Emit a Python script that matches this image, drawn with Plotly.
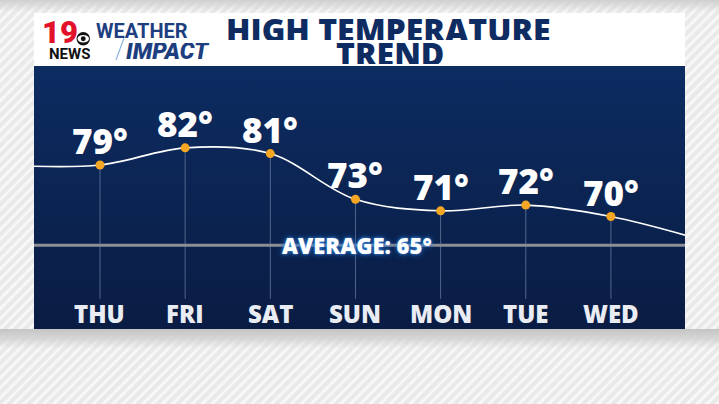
import base64
import plotly.graph_objects as go

# ---------------- data ----------------
days = ["THU", "FRI", "SAT", "SUN", "MON", "TUE", "WED"]
highs = [79, 82, 81, 73, 71, 72, 70]
average_high = 65
edge_left_value = 78.9     # where the trend curve enters the panel (left)
edge_right_value = 66.2    # where the trend curve leaves the panel (right)
title_lines = ["HIGH TEMPERATURE", "TREND"]
avg_label = f"AVERAGE: {average_high}°"

W, H = 719, 404
NAVY_TITLE = "#0f2c62"
DOT = "#f5a623"
BIG = "Open Sans"


def px(x):
    return x / W


def py(y):
    return 1 - y / H


# ---------------- backgrounds (svg) ----------------
stripes_svg = f"""<svg xmlns='http://www.w3.org/2000/svg' width='{W}' height='{H}'>
<defs>
<pattern id='p' width='7' height='7' patternUnits='userSpaceOnUse' patternTransform='rotate(45)'>
<rect width='7' height='7' fill='#e9e9e9'/><rect width='3' height='7' fill='#f7f7f7'/>
</pattern>
<linearGradient id='top' x1='0' y1='0' x2='0' y2='1'>
<stop offset='0' stop-color='#cfcfcf'/><stop offset='1' stop-color='#cfcfcf' stop-opacity='0'/>
</linearGradient>
<linearGradient id='sh' x1='0' y1='0' x2='0' y2='1'>
<stop offset='0' stop-color='#c4c4c4'/><stop offset='0.5' stop-color='#d0d0d0' stop-opacity='0.8'/>
<stop offset='1' stop-color='#d6d6d6' stop-opacity='0'/>
</linearGradient>
</defs>
<rect width='{W}' height='{H}' fill='url(#p)'/>
<rect width='{W}' height='12' fill='url(#top)'/>
<rect y='329' width='{W}' height='20' fill='url(#sh)'/>
</svg>"""

navy_svg = """<svg xmlns='http://www.w3.org/2000/svg' width='100' height='100' preserveAspectRatio='none'>
<defs><linearGradient id='g' x1='0' y1='0' x2='0' y2='1'>
<stop offset='0' stop-color='#0d2c62'/><stop offset='0.5' stop-color='#0b2452'/>
<stop offset='1' stop-color='#0a1c43'/></linearGradient></defs>
<rect width='100' height='100' fill='url(#g)'/></svg>"""


def uri(svg):
    return "data:image/svg+xml;base64," + base64.b64encode(svg.encode()).decode()


# panel geometry (px)
PX0, PX1 = 34, 685
HY0, HY1 = 13, 66
NY0, NY1 = 66, 329

fig = go.Figure()

idx = list(range(len(days)))

# vertical guide lines from each point down
vx, vy = [], []
guide_bottom = 55.6
for i, v in zip(idx, highs):
    vx += [i, i, None]
    vy += [v, guide_bottom, None]
fig.add_trace(go.Scatter(x=vx, y=vy, mode="lines",
                         line=dict(color="rgba(140,158,190,0.55)", width=1),
                         hoverinfo="skip", showlegend=False))

# average line
fig.add_trace(go.Scatter(x=[-1, len(days)], y=[average_high, average_high], mode="lines",
                         line=dict(color="#8c8f96", width=3),
                         hoverinfo="skip", showlegend=False))

# trend curve
fig.add_trace(go.Scatter(x=[-1] + idx + [len(days)],
                         y=[edge_left_value] + highs + [edge_right_value],
                         mode="lines", line=dict(color="white", width=1.6, shape="spline", smoothing=1),
                         hoverinfo="skip", showlegend=False))

# dots
fig.add_trace(go.Scatter(x=idx, y=highs, mode="markers",
                         marker=dict(color=DOT, size=9, line=dict(width=0)),
                         hoverinfo="skip", showlegend=False, cliponaxis=False))

annotations = []
for i, v in zip(idx, highs):
    annotations.append(dict(x=i, y=v, xref="x", yref="y", text=f"{v}°", showarrow=False,
                            xanchor="center", yanchor="bottom", yshift=-1,
                            font=dict(family=BIG, size=35, color="white", weight=800)))
for i, d in zip(idx, days):
    annotations.append(dict(x=i, y=py(313), xref="x", yref="paper", text=d, showarrow=False,
                            xanchor="center", yanchor="middle",
                            font=dict(family=BIG, size=24, color="#e9ecf3", weight=800)))
annotations.append(dict(x=3.02, y=average_high, xref="x", yref="y", text=avg_label, showarrow=False,
                        xanchor="center", yanchor="middle",
                        font=dict(family=BIG, size=22, color="white", weight=800,
                                  shadow="0px 0px 3px #3a90ea, 0px 0px 6px #1f63b8")))

# header texts
annotations.append(dict(x=px(389), y=py(29), xref="paper", yref="paper", text=title_lines[0],
                        showarrow=False, xanchor="center", yanchor="middle", height=22,
                        font=dict(family=BIG, size=32, color=NAVY_TITLE, weight=800)))
annotations.append(dict(x=px(390), y=py(53), xref="paper", yref="paper", text=title_lines[1],
                        showarrow=False, xanchor="center", yanchor="middle", height=22,
                        font=dict(family=BIG, size=32, color=NAVY_TITLE, weight=800)))
# logo
annotations.append(dict(x=px(60), y=py(32), xref="paper", yref="paper", text="19", showarrow=False,
                        xanchor="center", yanchor="middle", height=24,
                        font=dict(family="Roboto", size=31, color="#e3122b", weight=900)))
annotations.append(dict(x=px(69), y=py(53.5), xref="paper", yref="paper", text="NEWS", showarrow=False,
                        xanchor="center", yanchor="middle", height=12,
                        font=dict(family="Roboto", size=15, color="#111111", weight="bold")))
annotations.append(dict(x=px(142), y=py(31), xref="paper", yref="paper", text="WEATHER", showarrow=False,
                        xanchor="center", yanchor="middle", height=16,
                        font=dict(family="Roboto", size=20, color="#1d3f80", weight=700)))
annotations.append(dict(x=px(168), y=py(51), xref="paper", yref="paper", text="<i>IMPACT</i>", showarrow=False,
                        xanchor="center", yanchor="middle", height=16,
                        font=dict(family="Roboto", size=23, color="#1d3f80", weight=900)))

shapes = [
    dict(type="rect", xref="paper", yref="paper", x0=px(PX0), x1=px(PX1), y0=py(HY1), y1=py(HY0),
         fillcolor="white", line=dict(width=0), layer="below"),
    # CBS eye
    dict(type="circle", xref="paper", yref="paper", x0=px(76.5), x1=px(90), y0=py(45.5), y1=py(32),
         fillcolor="#111111", line=dict(width=0), layer="above"),
    dict(type="circle", xref="paper", yref="paper", x0=px(77.5), x1=px(89), y0=py(42.5), y1=py(35),
         fillcolor="white", line=dict(width=0), layer="above"),
    dict(type="circle", xref="paper", yref="paper", x0=px(80.8), x1=px(85.7), y0=py(41.2), y1=py(36.3),
         fillcolor="#111111", line=dict(width=0), layer="above"),
    # slash before IMPACT
    dict(type="line", xref="paper", yref="paper", x0=px(116), x1=px(124), y0=py(60), y1=py(38),
         line=dict(color="#8fb4e0", width=1.2), layer="above"),
]

images = [
    dict(source=uri(stripes_svg), xref="paper", yref="paper", x=0, y=1, sizex=1, sizey=1,
         xanchor="left", yanchor="top", sizing="stretch", layer="below"),
    dict(source=uri(navy_svg), xref="paper", yref="paper", x=px(PX0), y=py(NY0),
         sizex=px(PX1) - px(PX0), sizey=py(NY0) - py(NY1),
         xanchor="left", yanchor="top", sizing="stretch", layer="below"),
]

fig.update_layout(
    width=W, height=H, margin=dict(l=0, r=0, t=0, b=0),
    paper_bgcolor="#eaeaea", plot_bgcolor="rgba(0,0,0,0)",
    xaxis=dict(domain=[px(PX0), px(PX1)], range=[-0.775, 6.87], visible=False, fixedrange=True),
    yaxis=dict(domain=[py(NY1), py(NY0)], range=[50.35, 96.3], visible=False, fixedrange=True),
    annotations=annotations, shapes=shapes, images=images, showlegend=False,
)

fig.write_html("out.html", config={"displayModeBar": False},
               post_script="document.body.style.margin='0';document.body.style.overflow='hidden';")
